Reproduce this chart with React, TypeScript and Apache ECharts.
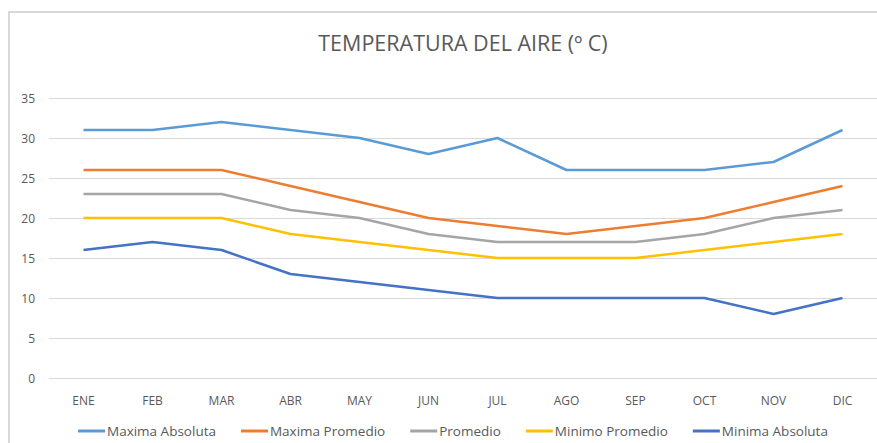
import React, { useEffect, useRef } from "react";
import * as echarts from "echarts";

const months = ["ENE", "FEB", "MAR", "ABR", "MAY", "JUN", "JUL", "AGO", "SEP", "OCT", "NOV", "DIC"];
const maximaAbsoluta = [31, 31, 32, 31, 30, 28, 30, 26, 26, 26, 27, 31];
const maximaPromedio = [26, 26, 26, 24, 22, 20, 19, 18, 19, 20, 22, 24];
const promedio = [23, 23, 23, 21, 20, 18, 17, 17, 17, 18, 20, 21];
const minimoPromedio = [20, 20, 20, 18, 17, 16, 15, 15, 15, 16, 17, 18];
const minimaAbsoluta = [16, 17, 16, 13, 12, 11, 10, 10, 10, 10, 8, 10];

const seriesDefs = [
  { name: "Maxima Absoluta", data: maximaAbsoluta, color: "#5B9BD5" },
  { name: "Maxima Promedio", data: maximaPromedio, color: "#ED7D31" },
  { name: "Promedio", data: promedio, color: "#A5A5A5" },
  { name: "Minimo Promedio", data: minimoPromedio, color: "#FFC000" },
  { name: "Minima Absoluta", data: minimaAbsoluta, color: "#4472C4" },
];

const FONT = "'Open Sans', 'Liberation Sans', sans-serif";

export default function App() {
  const ref = useRef<HTMLDivElement>(null);
  useEffect(() => {
    document.body.style.margin = "0";
    const chart = echarts.init(ref.current!, null, { renderer: "svg" });
    chart.setOption({
      animation: false,
      backgroundColor: "#ffffff",
      title: {
        text: "TEMPERATURA DEL AIRE (º C)",
        left: 458,
        textAlign: "center",
        top: 26,
        textStyle: { color: "#595959", fontSize: 21.5, fontWeight: "normal", fontFamily: FONT },
      },
      graphic: [
        {
          type: "rect",
          shape: { x: 9, y: 12, width: 900, height: 460 },
          style: { fill: "none", stroke: "#d9d9d9", lineWidth: 2 },
          silent: true,
        },
      ],
      legend: {
        bottom: 5,
        left: 78,
        padding: 0,
        icon: "rect",
        itemWidth: 27,
        itemHeight: 3,
        itemGap: 25,
        textStyle: { color: "#595959", fontSize: 13.5, fontFamily: FONT, padding: [0, 0, 0, -3] },
        data: seriesDefs.map((s) => s.name),
      },
      grid: { left: 49, right: 0, top: 98, bottom: 65 },
      xAxis: {
        type: "category",
        data: months,
        boundaryGap: true,
        axisLine: { show: false },
        axisTick: { show: false },
        axisLabel: { color: "#595959", fontSize: 12, fontFamily: FONT, margin: 16 },
      },
      yAxis: {
        type: "value",
        min: 0,
        max: 35,
        interval: 5,
        axisLine: { show: false },
        axisTick: { show: false },
        axisLabel: { color: "#595959", fontSize: 12, fontFamily: FONT, margin: 14 },
        splitLine: { lineStyle: { color: "#d9d9d9", width: 1 } },
      },
      series: seriesDefs.map((s) => ({
        name: s.name,
        type: "line",
        data: s.data,
        symbol: "none",
        color: s.color,
        lineStyle: { width: 2.5, color: s.color },
      })),
    });
    return () => chart.dispose();
  }, []);
  return <div ref={ref} style={{ width: 877, height: 443 }} />;
}
